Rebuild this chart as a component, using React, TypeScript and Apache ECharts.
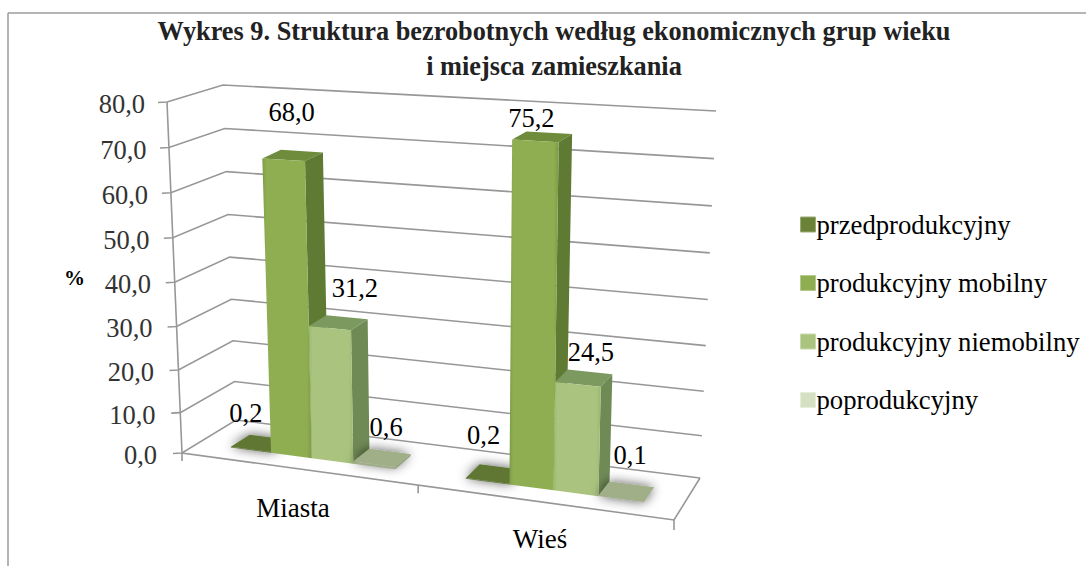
import React, { useEffect, useRef } from "react";
import * as echarts from "echarts";

const categories = ["Miasta", "Wieś"];
const seriesNames = ["przedprodukcyjny", "produkcyjny mobilny", "produkcyjny niemobilny", "poprodukcyjny"];
const przedprodukcyjny = [0.2, 0.2];
const mobilny = [68.0, 75.2];
const niemobilny = [31.2, 24.5];
const poprodukcyjny = [0.6, 0.1];
const yTicks = [0, 10, 20, 30, 40, 50, 60, 70, 80];

const FONT = "'Liberation Serif', serif";
const GL = 182, GW = 492, GT = 102, GB = 453;
// 3D box corners used for the walls
const C = {
  fl0: [182, 453], fl1: [167, 102], bl0: [236, 420], bl1: [223, 85],
  br0: [700, 478], br1: [716, 111], fr0: [674, 520],
};
// top corners of the front plane used for the bars
const barFl1 = [167, 107], barFr1 = [685, 132];
const GAMMA = 1.04;
const lerp = (a: number[], b: number[], t: number) => [a[0] + (b[0] - a[0]) * t, a[1] + (b[1] - a[1]) * t];
const persp = (u: number) => u - 0.08 * u * (1 - u);
const vPersp = (t: number) => Math.pow(Math.max(t, 0), GAMMA);
function P(uRaw: number, d: number, tRaw: number) {
  const u = persp(uRaw), t = vPersp(tRaw);
  const f0 = lerp(C.fl0, C.fr0, u), f1 = lerp(barFl1, barFr1, u);
  const b0 = lerp(C.bl0, C.br0, u), b1 = lerp(C.bl1, C.br1, u);
  return lerp(lerp(f0, b0, d), lerp(f1, b1, d), t);
}
const BAR_W = 0.0885, D0 = 0.3, D1 = 0.66;
const styles = [
  { front: "#5f7733", side: "#566c2e", top: "#5f7733", shadow: true },
  { front: "#8fae52", side: "#5f7a32", top: "#6e8c3c", shadow: false },
  { front: "#aac47f", side: "#708a56", top: "#7c9a60", shadow: false },
  { front: "#9fae88", side: "#93a27c", top: "#a0af88", shadow: true },
];
const labelOffsets = [
  [[-5, -36], [-4, -46]],
  [[8, -48], [-4, -23]],
  [[25, -40], [13, -32]],
  [[12, -37], [9, -44]],
];

function barRender(si: number) {
  return (params: any, api: any) => {
    const cat = api.value(0), val = api.value(1);
    const cx = (api.coord([cat, 0])[0] - GL) / GW;
    const t = (GB - api.coord([cat, val])[1]) / (GB - GT);
    const u0 = cx + (si - 2) * BAR_W, u1 = u0 + BAR_W;
    const s = styles[si];
    const poly = (pts: number[][], fill: any, extra: any = {}) => ({
      type: "polygon", shape: { points: pts }, style: { fill, ...extra },
    });
    const extra = s.shadow ? { shadowBlur: 12, shadowColor: "rgba(0,0,0,0.65)", shadowOffsetX: 0, shadowOffsetY: 0 } : {};
    const fr = (a: number, b: number) => new echarts.graphic.LinearGradient(0, 0, 1, 0, [
      { offset: 0, color: a }, { offset: 0.08, color: b }, { offset: 0.9, color: b }, { offset: 1, color: a },
    ]);
    const frontFill = s.shadow ? s.front : fr(si === 1 ? "#7d9b45" : "#9bb86f", s.front);
    const tc = P((u0 + u1) / 2, D0, t);
    const off = labelOffsets[si][cat];
    return {
      type: "group",
      children: [
        poly([P(u0, D0, t), P(u1, D0, t), P(u1, D1, t), P(u0, D1, t)], s.top, extra),
        poly([P(u1, D0, 0), P(u1, D1, 0), P(u1, D1, t), P(u1, D0, t)], s.side),
        poly([P(u0, D0, 0), P(u1, D0, 0), P(u1, D0, t), P(u0, D0, t)], frontFill),
        {
          type: "text",
          x: tc[0] + off[0],
          y: tc[1] + off[1],
          style: {
            text: val.toFixed(1).replace(".", ","),
            font: `26.5px ${FONT}`, fill: "#000", align: "center", verticalAlign: "middle",
          },
        },
      ],
    };
  };
}

function wallRender(params: any, api: any) {
  const v = api.value(0);
  const t = vPersp((GB - api.coord([0, v])[1]) / (GB - GT));
  const a = lerp(C.fl0, C.fl1, t), b = lerp(C.bl0, C.bl1, t), c = lerp(C.br0, C.br1, t);
  const line = { stroke: "#979797", lineWidth: 1.6, fill: "none" };
  const children: any[] = [
    { type: "polyline", shape: { points: [[a[0] - 9, a[1] + 0.5], a, b, c] }, style: line },
  ];
  if (v === 0) {
    const m = lerp(C.fl0, C.fr0, persp(0.5));
    children.push(
      { type: "polyline", shape: { points: [C.fl1, C.fl0, C.fr0, C.br0] }, style: line },
      { type: "line", shape: { x1: C.fl0[0], y1: C.fl0[1], x2: C.fl0[0], y2: C.fl0[1] + 8 }, style: line },
      { type: "line", shape: { x1: m[0], y1: m[1], x2: m[0], y2: m[1] + 8 }, style: line },
      { type: "line", shape: { x1: C.fr0[0], y1: C.fr0[1], x2: C.fr0[0], y2: C.fr0[1] + 10 }, style: line },
    );
  }
  return { type: "group", children };
}

// y-axis labels follow the slanted, slightly foreshortened vertical axis
const yRich: any = {};
yTicks.forEach((v) => {
  const t = v / 80;
  const shift = (GB - GT) * (t - vPersp(t)) + 2;
  yRich["t" + v] = {
    fontSize: 26.5, fontFamily: FONT, color: "#333",
    padding: [2 * shift, t * 12, 0, 0],
  };
});

export default function App() {
  const ref = useRef<HTMLDivElement>(null);
  useEffect(() => {
    const chart = echarts.init(ref.current!, null, { renderer: "svg" });
    const valuesBySeries = [przedprodukcyjny, mobilny, niemobilny, poprodukcyjny];
    chart.setOption({
      animation: false,
      backgroundColor: "#fff",
      title: {
        text: "Wykres 9. Struktura bezrobotnych według ekonomicznych grup wieku\ni miejsca zamieszkania",
        left: 549,
        top: 9,
        textAlign: "center",
        textStyle: { fontFamily: FONT, fontSize: 26.3, fontWeight: "bold", color: "#222", lineHeight: 35 },
      },
      legend: {
        orient: "vertical",
        left: 795,
        top: 206,
        itemWidth: 15,
        itemHeight: 15,
        itemGap: 31.5,
        icon: "rect",
        data: seriesNames.map((name, i) => ({
          name,
          itemStyle: {
            color: ["#6b8239", "#8fae52", "#aac47f", "#d5e0c2"][i],
            borderColor: ["#9aac74", "#b4c98a", "#c8d9ab", "#e6edd9"][i],
            borderWidth: 1,
          },
        })),
        textStyle: { fontFamily: FONT, fontSize: 26.7, color: "#000", padding: [0, 0, 0, -4] },
      },
      grid: { left: GL, width: GW, top: GT, height: GB - GT },
      xAxis: {
        type: "category",
        data: categories,
        axisLine: { show: false },
        axisTick: { show: false },
        axisLabel: {
          interval: 0,
          margin: 41,
          formatter: (v: string) => `{${v === "Miasta" ? "m" : "w"}|${v}}`,
          rich: {
            m: { fontFamily: FONT, fontSize: 27, color: "#000", padding: [0, 24, 0, 0] },
            w: { fontFamily: FONT, fontSize: 27, color: "#000", padding: [31, 22, 0, 0] },
          },
        },
      },
      yAxis: {
        type: "value",
        min: 0,
        max: 80,
        interval: 10,
        name: "%",
        nameLocation: "middle",
        nameRotate: 0,
        nameGap: 97,
        nameTextStyle: { fontFamily: FONT, fontSize: 21, fontWeight: "bold", color: "#000" },
        splitLine: { show: false },
        axisLine: { show: false },
        axisTick: { show: false },
        axisLabel: {
          margin: 25,
          formatter: (v: number) => `{t${v}|${v.toFixed(1).replace(".", ",")}}`,
          rich: yRich,
        },
      },
      graphic: [
        { type: "line", shape: { x1: 8, y1: 13, x2: 1086, y2: 13 }, style: { stroke: "#9c9c9c", lineWidth: 1.5 } },
        { type: "line", shape: { x1: 8, y1: 13, x2: 8, y2: 566 }, style: { stroke: "#9c9c9c", lineWidth: 1.5 } },
      ],
      series: [
        {
          type: "custom",
          name: "walls",
          coordinateSystem: "cartesian2d",
          silent: true,
          encode: { y: 0 },
          data: yTicks.map((v) => [v]),
          renderItem: wallRender,
          z: 1,
        },
        ...seriesNames.map((name, si) => ({
          type: "custom",
          name,
          coordinateSystem: "cartesian2d",
          encode: { x: 0, y: 1 },
          data: valuesBySeries[si].map((v, i) => [i, v]),
          renderItem: barRender(si),
          z: 2 + si,
        })),
      ],
    });
    return () => chart.dispose();
  }, []);
  return <div ref={ref} style={{ position: "fixed", left: 0, top: 0, width: 1086, height: 566 }} />;
}
